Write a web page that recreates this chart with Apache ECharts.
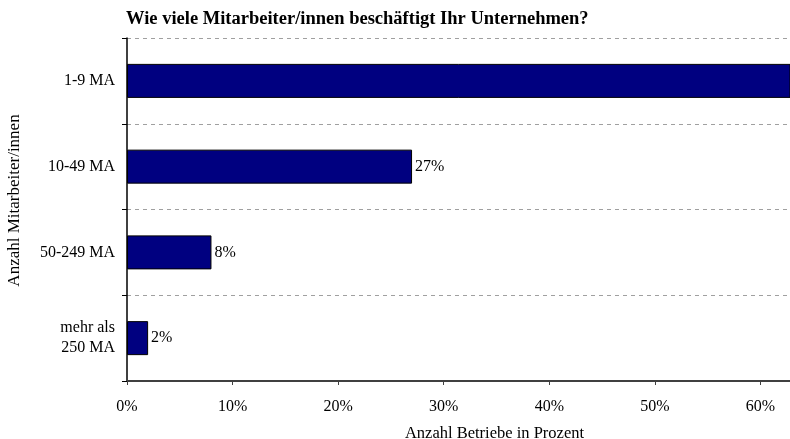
<!DOCTYPE html>
<html>
<head>
<meta charset="utf-8">
<script src="https://cdn.jsdelivr.net/npm/echarts@6/dist/echarts.min.js"></script>
<style>
  html, body { margin: 0; padding: 0; background: #ffffff; }
  #chart { width: 790px; height: 439px; }
</style>
</head>
<body>
<div id="chart"></div>
<script>
// categories (top to bottom) and shares in percent
const categories = ["1-9 MA", "10-49 MA", "50-249 MA", "mehr als\n250 MA"];
const shares = [63, 27, 8, 2];
const xTicks = [0, 10, 20, 30, 40, 50, 60];

const serif = "'Liberation Serif', 'DejaVu Serif', serif";

const chart = echarts.init(document.getElementById("chart"));
chart.setOption({
  animation: false,
  title: {
    text: "Wie viele Mitarbeiter/innen beschäftigt Ihr Unternehmen?",
    left: 121,
    top: 5,
    textStyle: {
      fontFamily: serif,
      fontSize: 18.5,
      fontWeight: "bold",
      color: "#000",
    },
  },
  grid: {
    left: 127,
    right: 0,
    top: 38,
    bottom: 58,
    outerBoundsMode: "none",
  },
  xAxis: {
    type: "value",
    min: 0,
    max: 62.8,
    interval: 10,
    name: "Anzahl Betriebe in Prozent",
    nameLocation: "middle",
    nameGap: 44,
    nameTextStyle: {
      fontFamily: serif,
      fontSize: 16.5,
      color: "#000",
      padding: [0, 0, 0, 72],
    },
    axisLine: {
      show: true,
      lineStyle: { color: "#404040", width: 2 },
    },
    axisTick: {
      show: true,
      length: 4,
      lineStyle: { color: "#404040" },
    },
    axisLabel: {
      fontFamily: serif,
      fontSize: 16,
      color: "#000",
      margin: 18,
      formatter: (v) => (xTicks.includes(v) ? v + "%" : ""),
    },
    splitLine: { show: false },
  },
  yAxis: {
    type: "category",
    data: categories,
    inverse: true,
    name: "Anzahl Mitarbeiter/innen",
    nameLocation: "middle",
    nameGap: 104,
    nameRotate: 90,
    nameTextStyle: {
      fontFamily: serif,
      fontSize: 17,
      color: "#000",
      padding: [0, 0, 0, 18],
    },
    axisLine: {
      show: true,
      lineStyle: { color: "#000", width: 1.5 },
    },
    axisTick: {
      show: true,
      length: 5,
      lineStyle: { color: "#000" },
    },
    axisLabel: {
      fontFamily: serif,
      fontSize: 16,
      color: "#000",
      margin: 12,
      lineHeight: 20,
    },
    splitLine: {
      show: true,
      lineStyle: { color: "#a0a0a0", type: [4, 4], width: 1 },
    },
  },
  series: [
    {
      type: "bar",
      data: shares,
      barWidth: 34,
      itemStyle: {
        color: "#000080",
        borderColor: "#000",
        borderWidth: 1,
      },
      label: {
        show: true,
        position: "right",
        distance: 3,
        formatter: "{c}%",
        fontFamily: serif,
        fontSize: 16,
        color: "#000",
      },
    },
  ],
});
</script>
</body>
</html>
